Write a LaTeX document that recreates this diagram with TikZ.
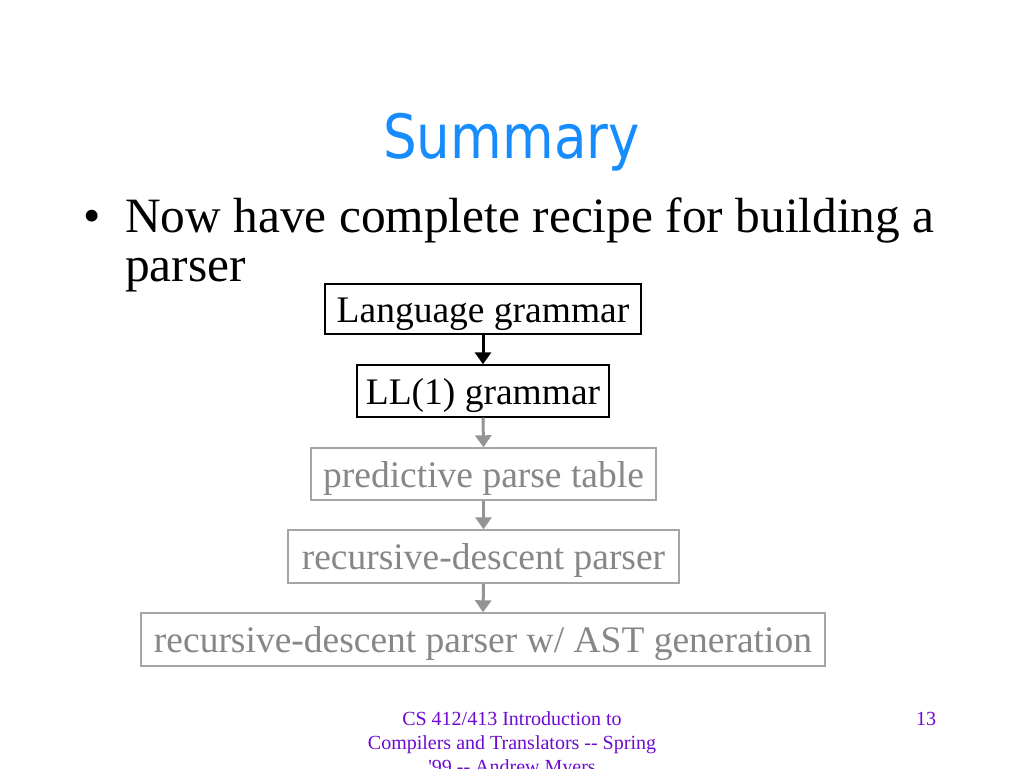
\documentclass[tikz,border=0pt]{standalone}
\usepackage{fontspec}
\usepackage{graphicx}
\setmainfont{Liberation Serif}
\newfontfamily\titlefont{DejaVu Sans}
\usetikzlibrary{arrows.meta}
\definecolor{titleblue}{RGB}{22,140,255}
\definecolor{footpurple}{RGB}{110,10,210}
\definecolor{boxgray}{RGB}{165,165,165}
\definecolor{textgray}{RGB}{135,135,135}
\tikzset{
  stagebox/.style={draw=black, line width=1.4pt, inner sep=0pt, text=black,
    text height=30pt, text depth=4pt,
    font=\fontsize{37.5}{42}\selectfont},
  greybox/.style={stagebox, draw=boxgray, text=textgray},
  flowarrow/.style={line width=3pt, -{Triangle[width=16pt,length=12pt]}, black},
  greyarrow/.style={flowarrow, boxgray!90!black},
  foot/.style={font=\fontsize{20}{24}\selectfont, text=footpurple}
}
\begin{document}
\begin{tikzpicture}[x=1pt,y=-1pt]
\useasboundingbox (0,0) rectangle (1024,768);
\clip (0,0) rectangle (1024,768);
\fill[white] (0,0) rectangle (1024,768);
% title
\node[anchor=base, inner sep=0pt, text=titleblue] (title) at (511.5,158)
  {\scalebox{0.87}[1]{\titlefont\fontsize{61}{70}\selectfont Summary}};
% bullet text
\node[anchor=base west, inner sep=0pt, font=\fontsize{49.4}{58}\selectfont] (bul) at (83,232) {\textbullet};
\node[anchor=base west, inner sep=0pt, font=\fontsize{49.4}{58}\selectfont] (line1) at (125,232) {Now have complete recipe for building a};
\node[anchor=base west, inner sep=0pt, font=\fontsize{49.4}{58}\selectfont] (line2) at (125,281) {parser};
% boxes
\node[stagebox, minimum width=316pt, minimum height=50pt] (b1) at (483,309) {Language grammar};
\node[stagebox, minimum width=252pt, minimum height=52pt] (b2) at (483,391) {LL(1) grammar};
\node[greybox, minimum width=345pt, minimum height=52pt] (b3) at (483.5,474) {predictive parse table};
\node[greybox, minimum width=391pt, minimum height=53pt] (b4) at (483.5,556.5) {recursive-descent parser};
\node[greybox, minimum width=684pt, minimum height=53pt] (b5) at (483,639.5) {recursive-descent parser w/ AST generation};
% arrows
\draw[flowarrow] (b1.south) -- (b2.north);
\draw[greyarrow] (b2.south) -- (b3.north);
\draw[greyarrow] (b3.south) -- (b4.north);
\draw[greyarrow] (b4.south) -- (b5.north);
% footer
\node[foot, anchor=base, inner sep=0pt] (f1) at (512,725) {CS 412/413 Introduction to};
\node[foot, anchor=base, inner sep=0pt] (f2) at (512,749) {Compilers and Translators {-}{-} Spring};
\node[foot, anchor=base, inner sep=0pt] (f3) at (512,773) {\textquotesingle 99 {-}{-} Andrew Myers};
\node[foot, anchor=base, inner sep=0pt] (pg) at (926,725) {13};
\end{tikzpicture}
\end{document}
